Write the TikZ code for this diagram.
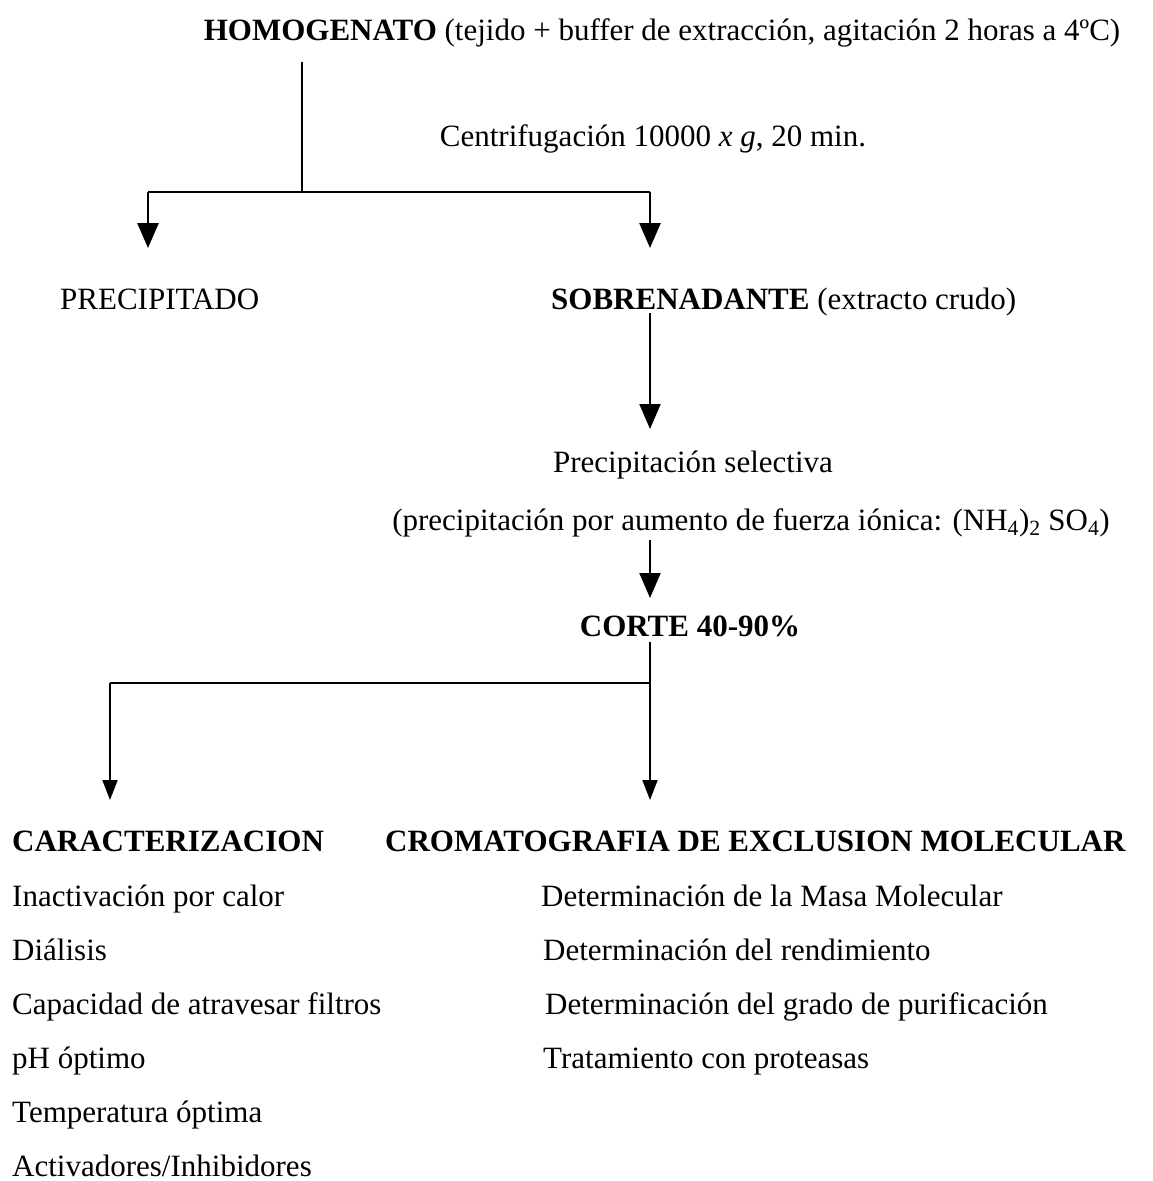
\documentclass[tikz,border=0pt]{standalone}
\usepackage{fontspec}
\setmainfont{Liberation Serif}
\usetikzlibrary{calc,arrows,arrows.meta}

\begin{document}
\begin{tikzpicture}[x=1pt,y=-1pt,>={Triangle[width=21pt,length=25pt]},
	every node/.style={inner sep=0pt},
	font=\fontsize{31}{36}\selectfont]
	\useasboundingbox (0,0) rectangle (1153,1181);

	% text of the first steps
	\node[anchor=base] (homog) at (662,40) {\textbf{HOMOGENATO} (tejido + buffer de extracción, agitación 2 horas a 4ºC)};
	\node[anchor=base] (centr) at (653,146) {Centrifugación 10000 \textit{x g}, 20 min.};
	\node[anchor=base west] (precip) at (60,309) {PRECIPITADO};
	\node[anchor=base west] (sobre) at (551,309) {\textbf{SOBRENADANTE} (extracto crudo)};
	\node[anchor=base] (selec) at (693,472) {Precipitación selectiva};
	\node[anchor=base] (fuerza) at (751,530) {(precipitación por aumento de fuerza iónica: (NH\textsubscript{4})\textsubscript{2} SO\textsubscript{4})};
	\node[anchor=base] (corte) at (690,636) {\textbf{CORTE 40-90\%}};

	% define the coordinates of the first split
	\coordinate (A) at (302,62);
	\coordinate (B) at (302,192);
	\coordinate (C) at (148,192);
	\coordinate (D) at (650,192);

	% draw the first split
	\draw[line width=2.6pt] (A)--(B) (C)--(D);
	\draw[->,line width=2.6pt] (C)--(148,248);
	\draw[->,line width=2.6pt] (D)--(650,248);

	% sobrenadante to precipitacion
	\coordinate (E) at (650,313);
	\draw[->,line width=2pt] (E)--(650,429);
	\coordinate (F) at (650,540);
	\draw[->,line width=2pt] (F)--(650,598);

	% define the coordinates of the second split
	\coordinate (G) at (650,642);
	\coordinate (H) at (650,683);
	\coordinate (K) at (110,683);
	\draw[line width=2pt] (G)--(H)--(K);
	\draw[->,>={Triangle[width=15pt,length=20pt]},line width=2pt] (H)--(650,800);
	\draw[->,>={Triangle[width=15pt,length=20pt]},line width=2pt] (K)--(110,800);

	% caracterizacion
	\node[anchor=base west] (carac) at (12,851) {\textbf{CARACTERIZACION}};
	\node[anchor=base west] (c1) at (12,906) {Inactivación por calor};
	\node[anchor=base west] (c2) at (12,960) {Diálisis};
	\node[anchor=base west] (c3) at (12,1014) {Capacidad de atravesar filtros};
	\node[anchor=base west] (c4) at (12,1068) {pH óptimo};
	\node[anchor=base west] (c5) at (12,1122) {Temperatura óptima};
	\node[anchor=base west] (c6) at (12,1176) {Activadores/Inhibidores};

	% cromatografia
	\node[anchor=base west] (croma) at (385,851) {\textbf{CROMATOGRAFIA DE EXCLUSION MOLECULAR}};
	\node[anchor=base west] (r1) at (541,906) {Determinación de la Masa Molecular};
	\node[anchor=base west] (r2) at (543,960) {Determinación del rendimiento};
	\node[anchor=base west] (r3) at (545,1014) {Determinación del grado de purificación};
	\node[anchor=base west] (r4) at (543,1068) {Tratamiento con proteasas};

\end{tikzpicture}
\end{document}
